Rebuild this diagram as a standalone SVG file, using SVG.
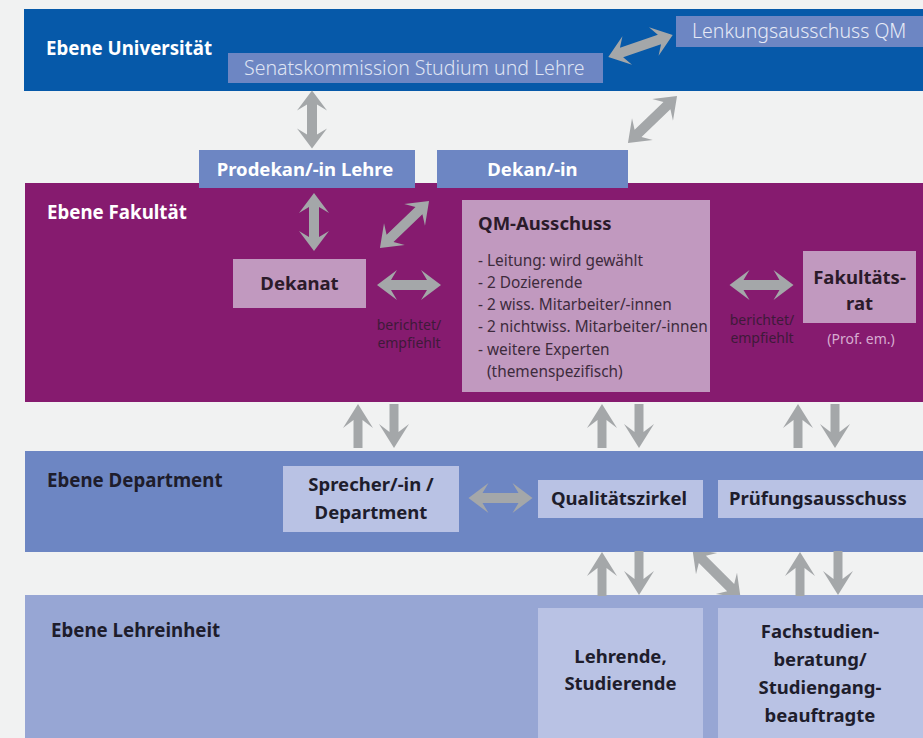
<svg xmlns="http://www.w3.org/2000/svg" xmlns:xlink="http://www.w3.org/1999/xlink" width="923" height="738" viewBox="0 0 923 738">
<style>
text{font-family:"Noto Sans","Open Sans","Liberation Sans",sans-serif}
.lvl{font-size:18.7px;font-weight:700}
.lbl{font-size:18.5px;font-weight:700}
.thin{font-size:19.5px;font-weight:300}
.lst{font-size:15.4px;fill:#3d2b3c}
.small{font-size:14px}
.w{fill:#ffffff}
.dk{fill:#1e1d2c}
.pk{fill:#2b1b2a}
.mid{text-anchor:middle}
.arr{fill:#a4a7a9}
</style>
<defs>
<path id="d58" d="M-29,0 L-9,-15 L-15,-5 L15,-5 L9,-15 L29,0 L9,15 L15,5 L-15,5 L-9,15 Z"/>
<path id="d61" d="M-30.5,0 L-10.5,-15 L-16.5,-5 L16.5,-5 L10.5,-15 L30.5,0 L10.5,15 L16.5,5 L-16.5,5 L-10.5,15 Z"/>
<path id="d64" d="M-32,0 L-12,-15 L-18,-5 L18,-5 L12,-15 L32,0 L12,15 L18,5 L-18,5 L-12,15 Z"/>
<path id="d68" d="M-34,0 L-14,-15 L-20,-5 L20,-5 L14,-15 L34,0 L14,15 L20,5 L-20,5 L-14,15 Z"/>
<path id="up" d="M0,0 L15,24 L4.5,16 L4.5,44 L-4.5,44 L-4.5,16 L-15,24 Z"/>
<clipPath id="gap"><rect x="0" y="552" width="923" height="43"/></clipPath>
</defs>
<rect x="0" y="0" width="923" height="738" fill="#f1f2f2"/>

<g id="ebene-universitaet">
<rect x="24" y="9" width="899" height="82" fill="#0659a9"/>
<text class="lvl w" x="46" y="55">Ebene Universität</text>
</g>
<g id="ebene-fakultaet">
<rect x="25" y="183" width="898" height="219" fill="#861b6f"/>
<text class="lvl w" x="47" y="219">Ebene Fakultät</text>
</g>
<g id="ebene-department">
<rect x="25" y="451" width="898" height="101" fill="#6d86c3"/>
<text class="lvl dk" x="47" y="487">Ebene Department</text>
</g>
<g id="ebene-lehreinheit">
<rect x="25" y="595" width="898" height="143" fill="#97a6d4"/>
<text class="lvl dk" x="51" y="637">Ebene Lehreinheit</text>
</g>

<g id="connectors" class="arr">
<use xlink:href="#d58" transform="translate(312,119.5) rotate(90)"/>
<use xlink:href="#d68" transform="translate(640.5,46) rotate(-18.7)"/>
<use xlink:href="#d68" transform="translate(652.5,119.5) rotate(-43.8)"/>
<use xlink:href="#d58" transform="translate(314,222) rotate(90)"/>
<use xlink:href="#d68" transform="translate(404.5,224.5) rotate(-43.8)"/>
<use xlink:href="#d64" transform="translate(409,285)"/>
<use xlink:href="#d64" transform="translate(761.5,285)"/>
<use xlink:href="#d64" transform="translate(500.5,498)"/>
<use xlink:href="#up" transform="translate(358,404)"/>
<use xlink:href="#up" transform="translate(394,448) rotate(180)"/>
<use xlink:href="#up" transform="translate(602,404)"/>
<use xlink:href="#up" transform="translate(639,448) rotate(180)"/>
<use xlink:href="#up" transform="translate(798,404)"/>
<use xlink:href="#up" transform="translate(835,448) rotate(180)"/>
<use xlink:href="#up" transform="translate(602,552)"/>
<use xlink:href="#up" transform="translate(639,595) rotate(180)"/>
<use xlink:href="#up" transform="translate(800,552)"/>
<use xlink:href="#up" transform="translate(838,595) rotate(180)"/>
<g clip-path="url(#gap)"><use xlink:href="#d68" transform="translate(716.5,573.5) rotate(45)"/></g>
</g>

<g id="senatskommission">
<rect x="228" y="53" width="375" height="30" fill="#6d86c3"/>
<text class="thin" x="244" y="75" fill="#dfe4f3">Senatskommission Studium und Lehre</text>
</g>
<g id="lenkungsausschuss">
<rect x="676" y="16" width="247" height="31" fill="#6d86c3"/>
<text class="thin" x="692" y="38" fill="#e6eaf6">Lenkungsausschuss QM</text>
</g>
<g id="prodekan">
<rect x="199" y="150" width="216" height="38" fill="#6d86c3"/>
<text class="lbl w mid" x="305" y="176">Prodekan/-in Lehre</text>
</g>
<g id="dekan">
<rect x="437" y="150" width="191" height="38" fill="#6d86c3"/>
<text class="lbl w mid" x="532.5" y="176">Dekan/-in</text>
</g>
<g id="dekanat">
<rect x="233" y="259" width="133" height="49" fill="#c199bf"/>
<text class="lbl pk mid" x="299.5" y="290">Dekanat</text>
</g>
<g id="label-links">
<text class="small mid" x="409" y="330" fill="#3e1a39">berichtet/</text>
<text class="small mid" x="409" y="348" fill="#3e1a39">empfiehlt</text>
</g>
<g id="qm-ausschuss">
<rect x="462" y="200" width="248" height="192" fill="#c199bf"/>
<text class="lbl pk" x="478" y="230">QM-Ausschuss</text>
<text class="lst" x="478" y="266">- Leitung: wird gewählt</text>
<text class="lst" x="478" y="288">- 2 Dozierende</text>
<text class="lst" x="478" y="310">- 2 wiss. Mitarbeiter/-innen</text>
<text class="lst" x="478" y="332">- 2 nichtwiss. Mitarbeiter/-innen</text>
<text class="lst" x="478" y="355">- weitere Experten</text>
<text class="lst" x="487" y="377">(themenspezifisch)</text>
</g>
<g id="label-rechts">
<text class="small mid" x="762" y="325" fill="#3e1a39">berichtet/</text>
<text class="small mid" x="762" y="343" fill="#3e1a39">empfiehlt</text>
</g>
<g id="fakultaetsrat">
<rect x="803" y="251" width="113" height="72" fill="#c199bf"/>
<text class="lbl pk mid" x="859.5" y="284">Fakultäts-</text>
<text class="lbl pk mid" x="859.5" y="310">rat</text>
<text class="small mid" x="861" y="344" fill="#d6acd0" font-size="14.5">(Prof. em.)</text>
</g>
<g id="sprecher">
<rect x="283" y="466" width="176" height="66" fill="#b9c2e4"/>
<text class="lbl dk mid" x="371" y="491">Sprecher/-in /</text>
<text class="lbl dk mid" x="371" y="519">Department</text>
</g>
<g id="qualitaetszirkel">
<rect x="538" y="480" width="165" height="38" fill="#b9c2e4"/>
<text class="lbl dk mid" x="619" y="505">Qualitätszirkel</text>
</g>
<g id="pruefungsausschuss">
<rect x="718" y="480" width="205" height="38" fill="#b9c2e4"/>
<text class="lbl dk mid" x="818" y="505">Prüfungsausschuss</text>
</g>
<g id="lehrende">
<rect x="538" y="608" width="165" height="130" fill="#b9c2e4"/>
<text class="lbl dk mid" x="620.5" y="663">Lehrende,</text>
<text class="lbl dk mid" x="620.5" y="690">Studierende</text>
</g>
<g id="fachstudienberatung">
<rect x="718" y="608" width="205" height="130" fill="#b9c2e4"/>
<text class="lbl dk mid" x="820" y="638">Fachstudien-</text>
<text class="lbl dk mid" x="820" y="666">beratung/</text>
<text class="lbl dk mid" x="820" y="694">Studiengang-</text>
<text class="lbl dk mid" x="820" y="722">beauftragte</text>
</g>
</svg>
